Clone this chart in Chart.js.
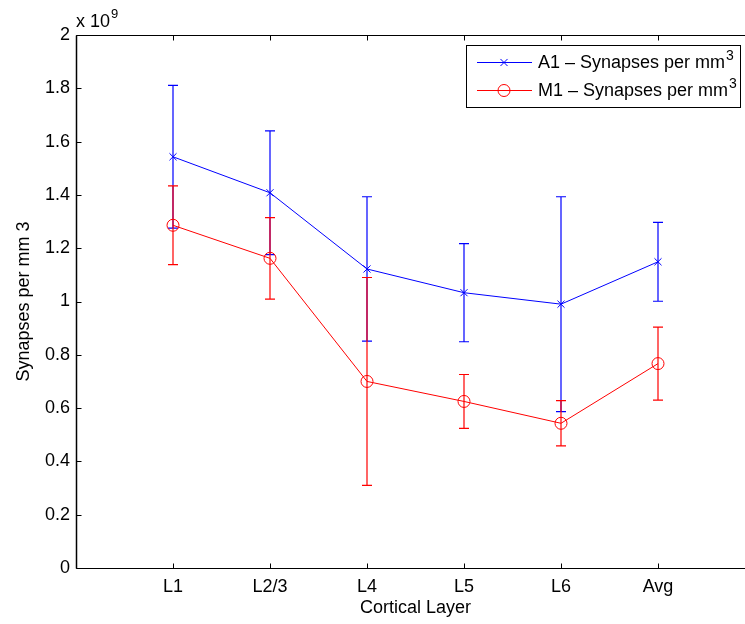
<!DOCTYPE html>
<html>
<head>
<meta charset="utf-8">
<script src="https://cdn.jsdelivr.net/npm/chart.js@4/dist/chart.umd.min.js"></script>
<style>
  html, body { margin: 0; padding: 0; background: #fff; overflow: hidden; }
  #wrap { position: absolute; left: 0; top: 0; width: 770px; height: 624px; }
</style>
</head>
<body>
<div id="wrap"><canvas id="c" width="770" height="624"></canvas></div>
<script>
// ---- data (values in units of 10^9 synapses per mm^3) ----
const categories = ['L1', 'L2/3', 'L4', 'L5', 'L6', 'Avg'];
const a1Mean = [1.543, 1.408, 1.122, 1.033, 0.990, 1.149];
const a1Err  = [0.268, 0.232, 0.271, 0.184, 0.403, 0.148];
const m1Mean = [1.286, 1.162, 0.700, 0.625, 0.543, 0.767];
const m1Err  = [0.148, 0.153, 0.390, 0.101, 0.085, 0.137];
const yTicks = [0, 0.2, 0.4, 0.6, 0.8, 1, 1.2, 1.4, 1.6, 1.8, 2];
const exponent = 9;
const seriesNames = ['A1 \u2013 Synapses per mm', 'M1 \u2013 Synapses per mm'];

const FONT = '"Liberation Sans", Arial, Helvetica, sans-serif';
const FS = 18;
const BLUE = '#0000ff', RED = '#ff0000';
const colors = [BLUE, RED];

const toPts = (arr) => arr.map((v, i) => ({ x: i + 1, y: v }));
const means = [a1Mean, m1Mean];
const errs = [a1Err, m1Err];

const framePlugin = {
  id: 'frame',
  afterDatasetDraw(chart, args) {
    const ctx = chart.ctx, xs = chart.scales.x, ys = chart.scales.y;
    const k = args.index;
    const m = means[k], e = errs[k];
    ctx.save();
    ctx.strokeStyle = colors[k];
    ctx.lineWidth = 1.2;
    ctx.setLineDash([]);
    m.forEach((v, i) => {
      const px = xs.getPixelForValue(i + 1);
      const top = ys.getPixelForValue(v + e[i]);
      const bot = ys.getPixelForValue(v - e[i]);
      ctx.beginPath();
      ctx.moveTo(px, top); ctx.lineTo(px, bot);
      ctx.moveTo(px - 5, top); ctx.lineTo(px + 5, top);
      ctx.moveTo(px - 5, bot); ctx.lineTo(px + 5, bot);
      ctx.stroke();
    });
    ctx.restore();
  },
  afterDraw(chart) {
    const ctx = chart.ctx, a = chart.chartArea, xs = chart.scales.x, ys = chart.scales.y;
    ctx.save();
    // box
    ctx.strokeStyle = '#000';
    ctx.lineWidth = 1;
    const L = Math.round(a.left) + 0.5, R = Math.round(a.right) + 0.5;
    const T = Math.round(a.top) + 0.5, B = Math.round(a.bottom) + 0.5;
    ctx.beginPath();
    ctx.rect(L, T, R - L, B - T);
    ctx.stroke();
    ctx.lineWidth = 1.5;
    ctx.beginPath(); ctx.moveTo(L, T); ctx.lineTo(L, B); ctx.stroke();
    ctx.lineWidth = 1;
    // ticks inward
    ctx.beginPath();
    yTicks.forEach(v => {
      const py = Math.round(ys.getPixelForValue(v)) + 0.5;
      ctx.moveTo(L, py); ctx.lineTo(L + 5, py);
      ctx.moveTo(R, py); ctx.lineTo(R - 5, py);
    });
    categories.forEach((c, i) => {
      const px = Math.round(xs.getPixelForValue(i + 1)) + 0.5;
      ctx.moveTo(px, B); ctx.lineTo(px, B - 5);
      ctx.moveTo(px, T); ctx.lineTo(px, T + 5);
    });
    ctx.stroke();

    // exponent label
    ctx.fillStyle = '#000';
    ctx.textBaseline = 'alphabetic';
    ctx.textAlign = 'left';
    ctx.font = FS + 'px ' + FONT;
    ctx.fillText('x 10', 76, 27);
    const w10 = ctx.measureText('x 10').width;
    ctx.font = '13px ' + FONT;
    ctx.fillText(String(exponent), 76 + w10 + 1, 18);

    // axis titles
    ctx.font = FS + 'px ' + FONT;
    ctx.textAlign = 'center';
    ctx.textBaseline = 'middle';
    ctx.fillText('Cortical Layer', (a.left + a.right) / 2, 608);
    ctx.save();
    ctx.translate(24, (a.top + a.bottom) / 2);
    ctx.rotate(-Math.PI / 2);
    ctx.fillText('Synapses per mm 3', 0, 0);
    ctx.restore();

    // legend
    const lx = 466.5, ly = 45.5, lw = 274, lh = 62;
    ctx.fillStyle = '#fff';
    ctx.fillRect(lx, ly, lw, lh);
    ctx.strokeStyle = '#000';
    ctx.lineWidth = 1;
    ctx.strokeRect(lx, ly, lw, lh);
    const rows = [62, 90];
    chart.data.datasets.forEach((ds, i) => {
      const y = rows[i] + 0.5;
      ctx.strokeStyle = colors[i];
      ctx.lineWidth = 1;
      ctx.beginPath(); ctx.moveTo(477, y); ctx.lineTo(532, y); ctx.stroke();
      ctx.fillStyle = 'rgba(0,0,0,0)';
      Chart.helpers.drawPoint(ctx, {
        pointStyle: ds.pointStyle, radius: ds.pointRadius, rotation: 0,
        borderWidth: 1
      }, 504, y);
      ctx.fillStyle = '#000';
      ctx.textAlign = 'left';
      ctx.textBaseline = 'middle';
      ctx.font = FS + 'px ' + FONT;
      ctx.fillText(seriesNames[i], 538, rows[i] + 1);
      const tw = ctx.measureText(seriesNames[i]).width;
      ctx.font = '14px ' + FONT;
      ctx.fillText('3', 538 + tw + 1, rows[i] - 6);
    });
    ctx.restore();
  }
};

new Chart(document.getElementById('c'), {
  type: 'line',
  data: {
    datasets: [
      {
        label: seriesNames[0], data: toPts(a1Mean), borderColor: BLUE, backgroundColor: 'transparent',
        borderWidth: 1, pointStyle: 'crossRot', pointRadius: 5, pointBorderWidth: 1,
        pointBorderColor: BLUE, pointBackgroundColor: 'transparent', order: 1, tension: 0
      },
      {
        label: seriesNames[1], data: toPts(m1Mean), borderColor: RED, backgroundColor: 'transparent',
        borderWidth: 1, pointStyle: 'circle', pointRadius: 6, pointBorderWidth: 1,
        pointBorderColor: RED, pointBackgroundColor: 'transparent', order: 0, tension: 0
      }
    ]
  },
  options: {
    responsive: false,
    animation: false,
    events: [],
    layout: { padding: { left: 0, top: 35, right: 15, bottom: 0 } },
    plugins: { legend: { display: false }, tooltip: { enabled: false } },
    scales: {
      x: {
        type: 'linear', min: 0, max: 7,
        grid: { display: false, drawTicks: false }, border: { display: false },
        afterBuildTicks: (s) => { s.ticks = categories.map((c, i) => ({ value: i + 1 })); },
        afterFit: (s) => { s.height = 56; },
        ticks: {
          color: '#000', font: { family: FONT, size: FS }, padding: 8,
          maxRotation: 0, autoSkip: false,
          callback: (v) => categories[v - 1] || ''
        }
      },
      y: {
        type: 'linear', min: 0, max: 2,
        grid: { display: false, drawTicks: false }, border: { display: false },
        afterBuildTicks: (s) => { s.ticks = yTicks.map(v => ({ value: v })); },
        afterFit: (s) => { s.width = 76; },
        ticks: {
          color: '#000', font: { family: FONT, size: FS }, padding: 6,
          callback: (v) => String(Math.round(v * 10) / 10)
        }
      }
    }
  },
  plugins: [framePlugin]
});
</script>
</body>
</html>
